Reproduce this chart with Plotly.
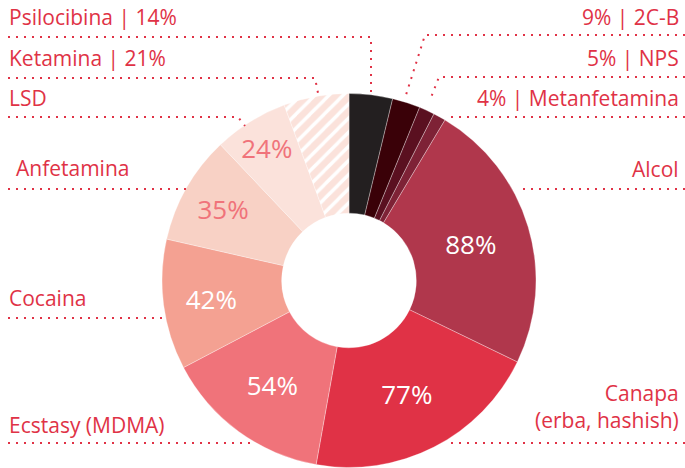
import plotly.graph_objects as go

# ---- data (clockwise from 12 o'clock) ----
names = ["Psilocibina", "2C-B", "NPS", "Metanfetamina", "Alcol",
         "Canapa (erba, hashish)", "Ecstasy (MDMA)", "Cocaina",
         "Anfetamina", "LSD", "Ketamina"]
values = [14, 9, 5, 4, 88, 77, 54, 42, 35, 24, 21]
colors = ["#231f20", "#3a0108", "#5a1020", "#7e2236", "#b0374c",
          "#e03246", "#f0737a", "#f4a192", "#f8d1c5", "#fbe2db", "#fbe2db"]
show_inside = [False, False, False, False, True, True, True, True, True, True, False]
inside_color = ["white"] * 8 + ["#f0737a", "#f0737a", "white"]
patterns = [""] * 10 + ["/"]

W, H = 685, 468
RED = "#e03246"
FONT = "Open Sans"

def X(px):
    return px / W

def Y(py):
    return 1 - py / H

fig = go.Figure(go.Pie(
    values=values,
    labels=names,
    sort=False,
    direction="clockwise",
    rotation=0,
    hole=0.36,
    marker=dict(colors=colors,
                line=dict(color="rgba(255,255,255,0.45)", width=0.7),
                pattern=dict(shape=patterns, fgcolor="white", bgcolor=colors,
                             fillmode="replace", size=10, solidity=0.35)),
    texttemplate="%{value}%",
    textposition=["inside" if s else "none" for s in show_inside],
    insidetextorientation="horizontal",
    textfont=dict(family=FONT, size=26, color=inside_color),
    hoverinfo="skip",
    showlegend=False,
    domain=dict(x=[X(162), X(536)], y=[Y(468), Y(93)]),
))

# ---- outside labels ----
left_labels = [
    (f"{names[0]} | {values[0]}%", 27),
    (f"{names[10]} | {values[10]}%", 68),
    (names[9], 108),
    (names[8], 178),
    (names[7], 308),
    (names[6], 435),
]
right_labels = [
    (f"{values[1]}% | {names[1]}", 27),
    (f"{values[2]}% | {names[2]}", 68),
    (f"{values[3]}% | {names[3]}", 108),
    (names[4], 179),
    ("Canapa<br>(erba, hashish)", 430),
]

ann = []
for txt, base in left_labels:
    x0 = 14 if txt == "Anfetamina" else 7
    ann.append(dict(text=txt, x=X(x0), y=Y(base + 6), xref="paper", yref="paper",
                    xanchor="left", yanchor="bottom", showarrow=False,
                    font=dict(family=FONT, size=21, color=RED)))
for txt, base in right_labels:
    ann.append(dict(text=txt, x=X(681), y=Y(base + 6), xref="paper", yref="paper",
                    xanchor="right", yanchor="bottom", showarrow=False, align="right",
                    font=dict(family=FONT, size=21, color=RED)))

# ---- dotted leader lines (pixel coordinates) ----
leaders = [
    [(8, 37), (371, 37), (371, 92)],
    [(8, 78), (315, 78), (318, 93)],
    [(8, 117), (238, 117), (245, 126)],
    [(8, 189), (186, 189)],
    [(8, 318), (166, 318)],
    [(8, 443), (255, 443)],
    [(685, 35), (425, 35), (405, 98)],
    [(685, 77), (439, 77), (430, 100)],
    [(685, 117), (446, 117)],
    [(685, 189), (521, 189)],
    [(685, 443), (447, 443)],
]
shapes = []
for pts in leaders:
    path = "M " + " L ".join(f"{X(a)},{Y(b)}" for a, b in pts)
    shapes.append(dict(type="path", path=path, xref="paper", yref="paper",
                       line=dict(color=RED, width=2, dash="2px,6px")))

fig.update_layout(
    width=W, height=H,
    margin=dict(l=0, r=0, t=0, b=0),
    paper_bgcolor="white", plot_bgcolor="white",
    annotations=ann, shapes=shapes,
)

fig.write_html("out.html")
